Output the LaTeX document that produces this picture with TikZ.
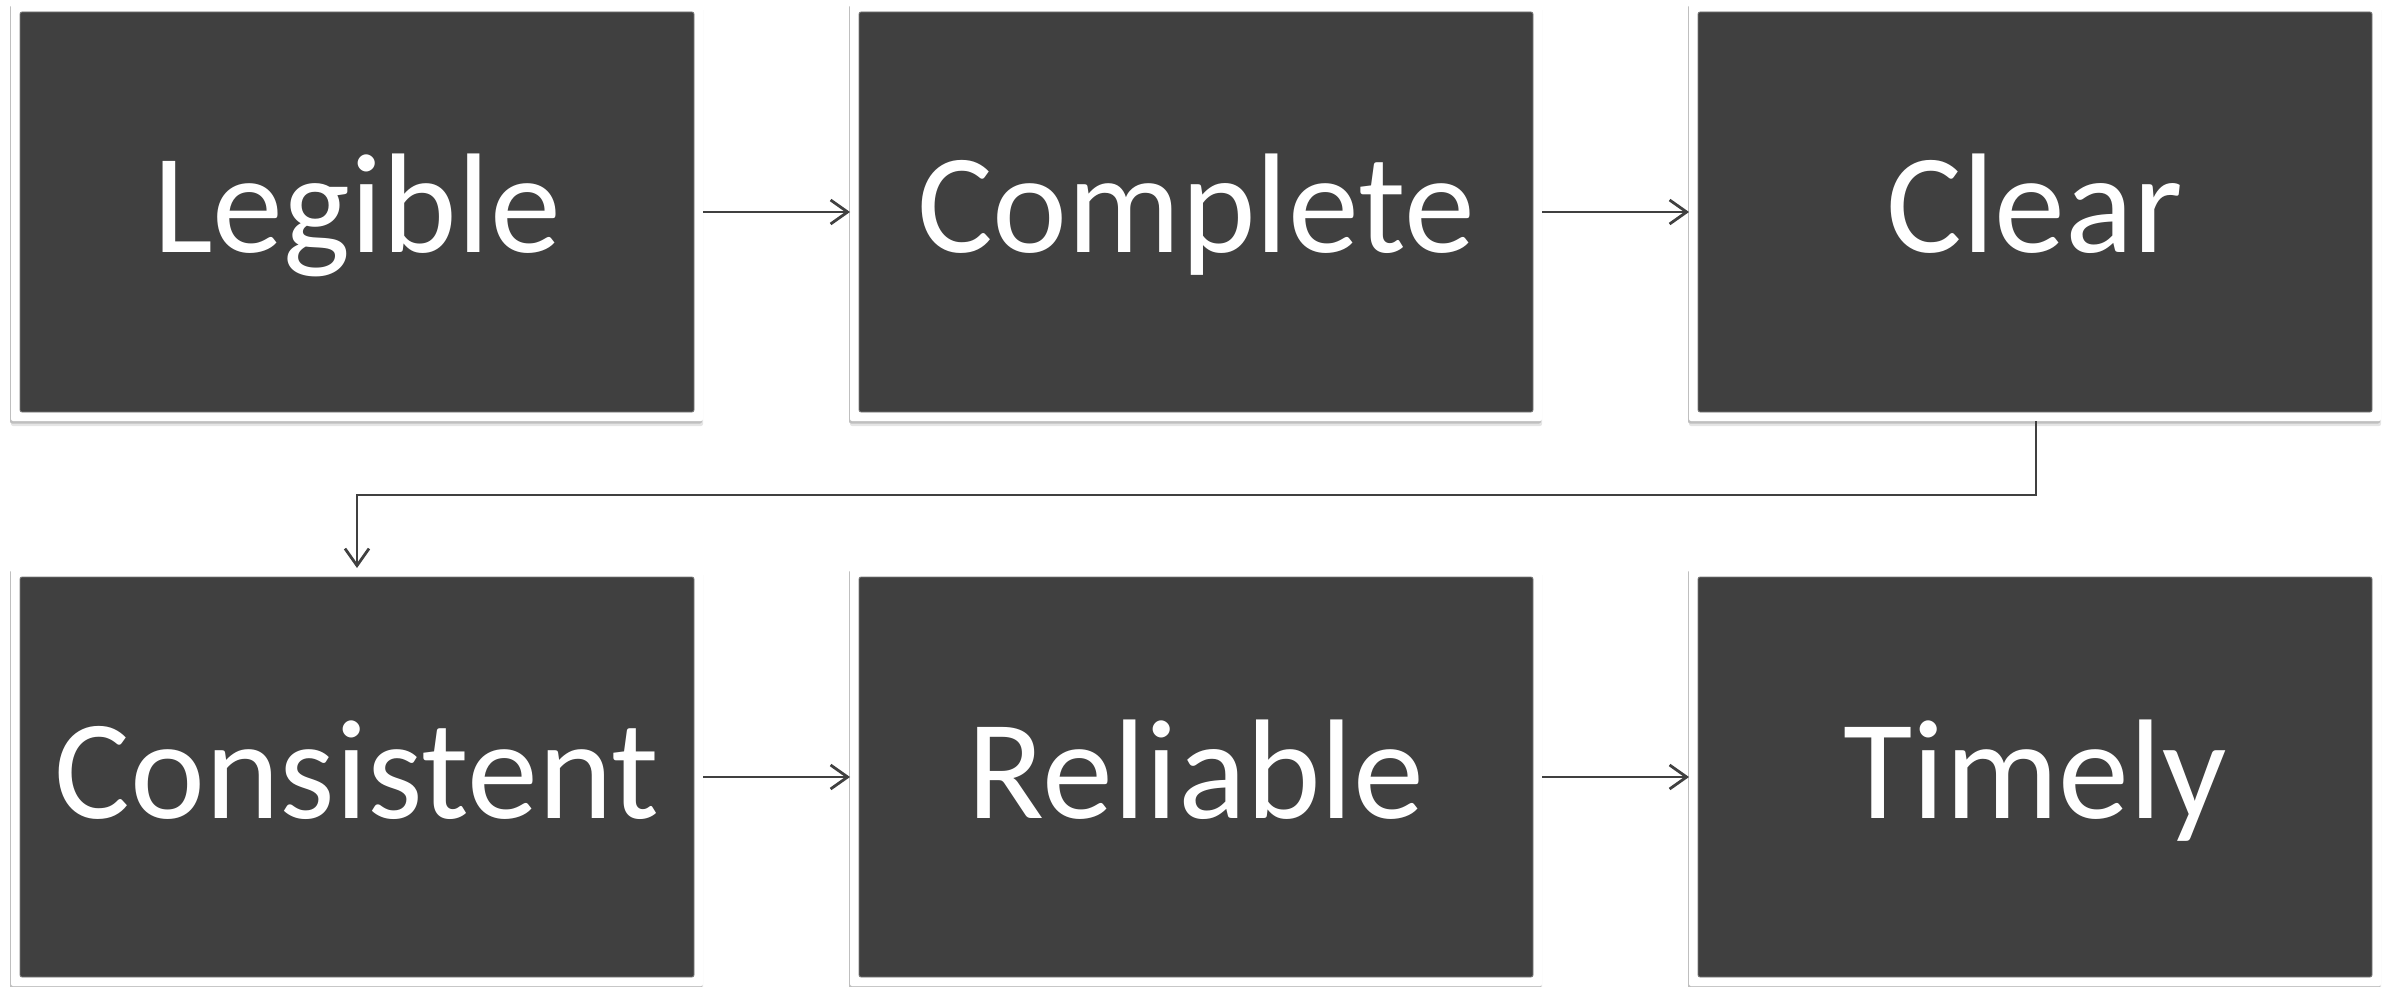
\documentclass[tikz,border=0pt]{standalone}
\usepackage{fontspec}
\setmainfont{Carlito}
\usetikzlibrary{arrows.meta,shadows}
\definecolor{boxfill}{HTML}{404040}
\definecolor{boxedge}{HTML}{7A7A7A}
\definecolor{arrowcol}{HTML}{404040}
\tikzset{
  frame/.style={fill=white, draw=none, rounded corners=2pt,
    minimum width=692pt, minimum height=418pt, inner sep=0pt, outer sep=0pt,
    drop shadow={shadow xshift=0pt, shadow yshift=-5pt, fill=black!10, opacity=1},
    drop shadow={shadow xshift=-1pt, shadow yshift=-2.5pt, fill=black!25, opacity=1},
    path picture={\fill[boxfill, draw=boxedge, line width=0.8pt]
      ([shift={(9pt,9pt)}]path picture bounding box.south west) rectangle
      ([shift={(-9pt,-9pt)}]path picture bounding box.north east);}},
  label/.style={text=white, font=\fontsize{142}{150}\selectfont, anchor=base, inner sep=0pt},
  arr/.style={draw=arrowcol, line width=2.8pt,
    -{Straight Barb[length=17pt, width=24pt, line width=2.8pt]}}
}
\begin{document}
\begin{tikzpicture}[x=1pt,y=-1pt]
\useasboundingbox (0,0) rectangle (2392,987);
\node[frame] (a) at (357,212) {};
\node[frame] (b) at (1196,212) {};
\node[frame] (c) at (2035,212) {};
\node[frame] (d) at (357,777) {};
\node[frame] (e) at (1196,777) {};
\node[frame] (f) at (2035,777) {};
\node[label] (ta) at (357,252) {Legible};
\node[label] (tb) at (1196,252) {Complete};
\node[label] (tc) at (2035,252) {Clear};
\node[label] (td) at (357,818) {Consistent};
\node[label] (te) at (1196,818) {Reliable};
\node[label] (tf) at (2035,818) {Timely};
\coordinate (turn) at (2036,495);
\draw[arr] (a.east) -- (b.west);
\draw[arr] (b.east) -- (c.west);
\draw[arr] (c.south -| turn) -- (turn) -| (d.north);
\draw[arr] (d.east) -- (e.west);
\draw[arr] (e.east) -- (f.west);
\end{tikzpicture}
\end{document}
